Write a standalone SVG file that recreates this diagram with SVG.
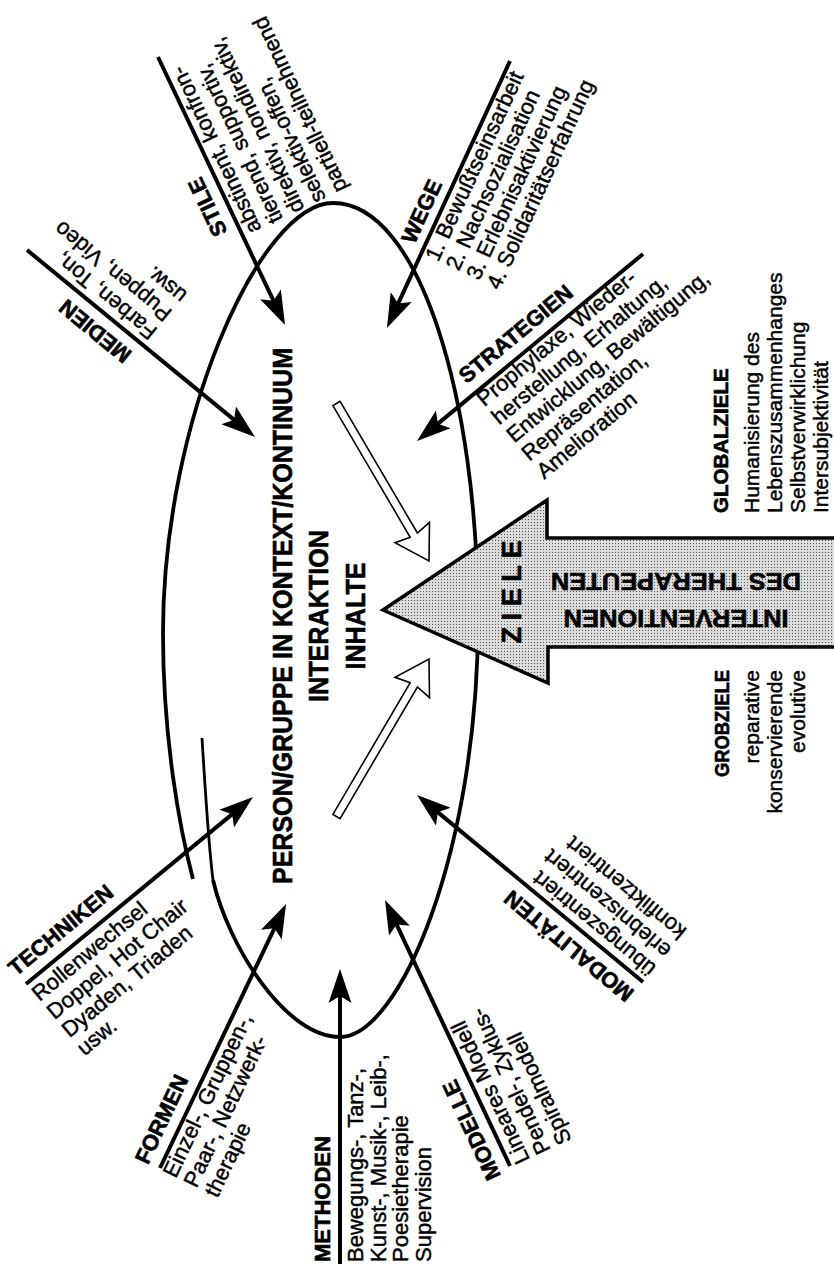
<svg xmlns="http://www.w3.org/2000/svg" width="834" height="1267" viewBox="0 0 834 1267">
<style>
.lbl{font-family:"Liberation Sans",Arial,sans-serif;font-weight:bold;font-size:22px;fill:#000;stroke:#000;stroke-width:0.6}
.txt{font-family:"Liberation Sans",Arial,sans-serif;font-size:22px;fill:#000;stroke:#000;stroke-width:0.45}
.ctr{font-family:"Liberation Sans",Arial,sans-serif;font-weight:bold;font-size:27px;fill:#000;stroke:#000;stroke-width:0.6;text-anchor:middle}
.con{stroke:#000;stroke-width:4;fill:none;marker-end:url(#ah)}
.hollow{fill:#fff;stroke:#000;stroke-width:1.6;stroke-linejoin:miter}
</style>
<defs>
<marker id="ah" markerUnits="userSpaceOnUse" viewBox="-27 -13 37 26" markerWidth="37" markerHeight="26" refX="0" refY="0" orient="auto">
<path d="M8,0 L-26,-11.5 L-19,0 L-26,11.5 Z" fill="#000"/>
</marker>
<pattern id="dots" width="3" height="3" patternUnits="userSpaceOnUse">
<rect width="3" height="3" fill="#dcdcdc"/><rect width="1" height="1" fill="#555"/>
</pattern>
</defs>
<rect width="834" height="1267" fill="#fff"/>

<g id="ellipse">
<path d="M213,880 C228,945 285,1037 340,1037 C400,1037 478,850 478,620 C478,400 420,203 333,203 C260,203 163,420 163,633 C163,740 180,830 193,879" fill="none" stroke="#000" stroke-width="3.8"/>
<path d="M202,738 C205,785 208,840 213,880" fill="none" stroke="#000" stroke-width="2.8"/>
</g>

<g id="connectors">
<line class="con" x1="27" y1="250" x2="248.8" y2="431.9"/>
<line class="con" x1="158" y1="57" x2="281.6" y2="317.8"/>
<line class="con" x1="510" y1="61" x2="390.3" y2="320.7"/>
<line class="con" x1="643" y1="254" x2="423.2" y2="435.9"/>
<line class="con" x1="26" y1="984" x2="246.8" y2="802.1"/>
<line class="con" x1="160" y1="1168" x2="282.6" y2="911.2"/>
<line class="con" x1="340" y1="1264" x2="340" y2="977"/>
<line class="con" x1="510" y1="1166" x2="388.4" y2="907.2"/>
<line class="con" x1="643" y1="982" x2="423.2" y2="800.1"/>
<polygon class="hollow" points="429,561 429.5,522.4 417.4,533 340.1,401.4 332.9,405.6 410.2,537.3 395,542.7"/>
<polygon class="hollow" points="429,659 429.5,697.6 417.4,687 340.1,818.6 332.9,814.4 410.2,682.7 395,677.3"/>
</g>

<g id="ziele-arrow">
<polygon points="383,610 547,500 547,538 840,538 840,647 548,647 548,683" fill="url(#dots)" stroke="#000" stroke-width="3.5" stroke-linejoin="miter"/>
<text class="lbl" transform="translate(521,592) rotate(-90)" text-anchor="middle" style="font-size:27px" textLength="103" lengthAdjust="spacing">ZIELE</text>
<text class="lbl" transform="translate(676,573) rotate(180)" text-anchor="middle" style="font-size:24px" textLength="250" lengthAdjust="spacingAndGlyphs">DES THERAPEUTEN</text>
<text class="lbl" transform="translate(676,610) rotate(180)" text-anchor="middle" style="font-size:24px" textLength="225" lengthAdjust="spacingAndGlyphs">INTERVENTIONEN</text>
</g>

<g id="center">
<text class="ctr" transform="translate(292,616) rotate(-90)" textLength="536" lengthAdjust="spacingAndGlyphs">PERSON/GRUPPE IN KONTEXT/KONTINUUM</text>
<text class="ctr" transform="translate(328,616) rotate(-90)" textLength="172" lengthAdjust="spacingAndGlyphs">INTERAKTION</text>
<text class="ctr" transform="translate(365,616) rotate(-90)" textLength="107" lengthAdjust="spacingAndGlyphs">INHALTE</text>
</g>

<g id="medien" transform="translate(27,250) rotate(-140.6)">
<text class="lbl" x="-147" y="-12">MEDIEN</text>
<text class="txt"><tspan x="-152" y="22">Farben, Ton,</tspan><tspan x="-152" y="45.5">Puppen, Video</tspan><tspan x="-152" y="69">usw.</tspan></text>
</g>

<g id="stile" transform="translate(158,57) rotate(-115.4)">
<text class="lbl" x="-188" y="-12">STILE</text>
<text class="txt"><tspan x="-200" y="20">abstinent, konfron-</tspan><tspan x="-200" y="43.8">tierend, supportiv,</tspan><tspan x="-200" y="67.6">direktiv, nondirektiv,</tspan><tspan x="-200" y="91.4">selektiv-offen,</tspan><tspan x="-200" y="115.2">partiell-teilnehmend</tspan></text>
</g>

<g id="wege" transform="translate(510,61) rotate(-65.3)">
<text class="lbl" x="-207" y="-10">WEGE</text>
<text class="txt"><tspan x="-213" y="19">1. Bewußtseinsarbeit</tspan><tspan x="-213" y="41.5">2. Nachsozialisation</tspan><tspan x="-213" y="64">3. Erlebnisaktivierung</tspan><tspan x="-213" y="86.5">4. Solidaritätserfahrung</tspan></text>
</g>

<g id="strategien" transform="translate(643,254) rotate(-39.6)">
<text class="lbl" x="-219" y="-12">STRATEGIEN</text>
<text class="txt"><tspan x="-220" y="17">Prophylaxe, Wieder-</tspan><tspan x="-220" y="40.5">herstellung, Erhaltung,</tspan><tspan x="-220" y="64">Entwicklung, Bewältigung,</tspan><tspan x="-220" y="87.5">Repräsentation,</tspan><tspan x="-220" y="111">Amelioration</tspan></text>
</g>

<g id="globalziele" transform="translate(728,513) rotate(-90)">
<text class="lbl" x="0" y="0" style="font-size:20.5px">GLOBALZIELE</text>
<text class="txt" style="font-size:21px"><tspan x="0" y="31">Humanisierung des</tspan><tspan x="0" y="54">Lebenszusammenhanges</tspan><tspan x="0" y="77">Selbstverwirklichung</tspan><tspan x="0" y="100">Intersubjektivität</tspan></text>
</g>

<g id="grobziele" transform="translate(729,670) rotate(-90)">
<text class="lbl" x="0" y="0" style="font-size:20.5px" text-anchor="end" textLength="107" lengthAdjust="spacingAndGlyphs">GROBZIELE</text>
<text class="txt" style="font-size:21px" text-anchor="end"><tspan x="0" y="30">reparative</tspan><tspan x="0" y="53">konservierende</tspan><tspan x="0" y="76">evolutive</tspan></text>
</g>

<g id="techniken" transform="translate(26,984) rotate(-39.5)">
<text class="lbl" x="-3" y="-12">TECHNIKEN</text>
<text class="txt"><tspan x="-1" y="22.5">Rollenwechsel</tspan><tspan x="-1" y="46">Doppel, Hot Chair</tspan><tspan x="-1" y="69.5">Dyaden, Triaden</tspan><tspan x="-1" y="93">usw.</tspan></text>
</g>

<g id="formen" transform="translate(160,1168) rotate(-64.5)">
<text class="lbl" x="-3" y="-12">FORMEN</text>
<text class="txt"><tspan x="-3" y="19">Einzel-, Gruppen-,</tspan><tspan x="-3" y="42">Paar-, Netzwerk-</tspan><tspan x="-3" y="65">therapie</tspan></text>
</g>

<g id="methoden" transform="translate(340,1264) rotate(-90)">
<text class="lbl" x="2" y="-10">METHODEN</text>
<text class="txt"><tspan x="2" y="23">Bewegungs-, Tanz-,</tspan><tspan x="2" y="45.5">Kunst-, Musik-, Leib-,</tspan><tspan x="2" y="68">Poesietherapie</tspan><tspan x="2" y="90.5">Supervision</tspan></text>
</g>

<g id="modelle" transform="translate(510,1166) rotate(-115.2)">
<text class="lbl" x="-5" y="-12">MODELLE</text>
<text class="txt"><tspan x="-3" y="21">Lineares Modell</tspan><tspan x="-3" y="44">Pendel-, Zyklus-</tspan><tspan x="-3" y="67">Spiralmodell</tspan></text>
</g>

<g id="modalitaeten" transform="translate(643,982) rotate(-140.4)">
<text class="lbl" x="0" y="-12">MODALITÄTEN</text>
<text class="txt"><tspan x="-1" y="21">übungszentriert</tspan><tspan x="-1" y="45">erlebniszentriert</tspan><tspan x="-1" y="69">konfliktzentriert</tspan></text>
</g>
</svg>
